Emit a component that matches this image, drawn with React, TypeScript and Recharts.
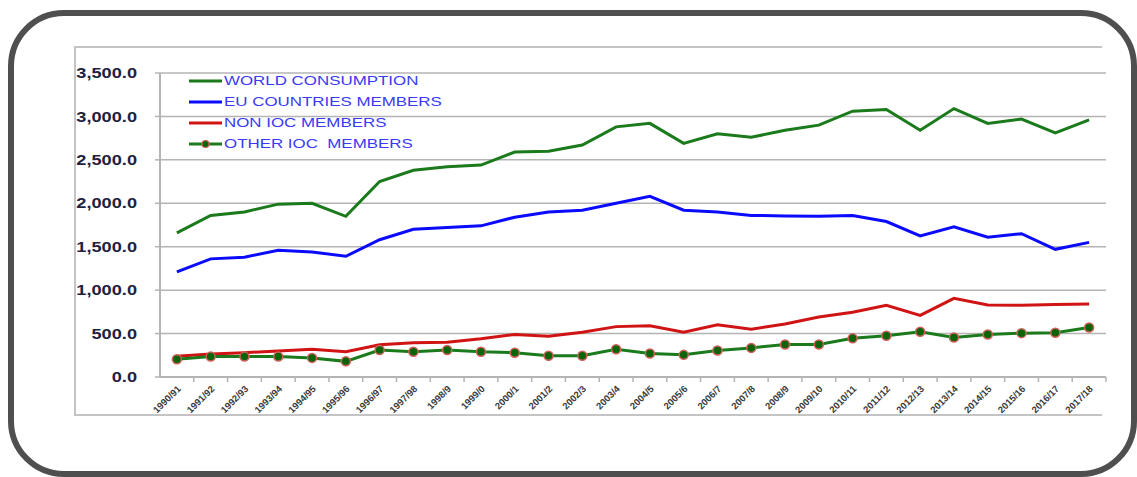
import React from 'react';
import { LineChart, Line, XAxis, YAxis, CartesianGrid, Legend } from 'recharts';

const years = [
  '1990/91', '1991/92', '1992/93', '1993/94', '1994/95', '1995/96', '1996/97',
  '1997/98', '1998/9', '1999/0', '2000/1', '2001/2', '2002/3', '2003/4',
  '2004/5', '2005/6', '2006/7', '2007/8', '2008/9', '2009/10', '2010/11',
  '2011/12', '2012/13', '2013/14', '2014/15', '2015/16', '2016/17', '2017/18',
];

const worldConsumption = [
  1660, 1860, 1900, 1990, 2000, 1850, 2250, 2380, 2420, 2440, 2590, 2600, 2670, 2880,
  2920, 2690, 2800, 2760, 2840, 2900, 3060, 3080, 2840, 3090, 2920, 2970, 2810, 2960,
];
const euMembers = [
  1210, 1360, 1380, 1460, 1440, 1390, 1580, 1700, 1720, 1740, 1840, 1900, 1920, 2000,
  2080, 1920, 1900, 1860, 1855, 1850, 1860, 1790, 1625, 1730, 1610, 1650, 1470, 1550,
];
const nonIocMembers = [
  240, 265, 280, 300, 320, 290, 370, 395, 400, 440, 490, 470, 515, 580,
  590, 515, 600, 550, 610, 690, 745, 825, 710, 905, 830, 825, 835, 840,
];
const otherIocMembers = [
  205, 235, 235, 235, 220, 180, 310, 290, 310, 290, 280, 245, 245, 320,
  270, 255, 305, 335, 375, 375, 445, 475, 520, 455, 490, 505, 510, 570,
];

const yTicks = [0, 500, 1000, 1500, 2000, 2500, 3000, 3500];

const data = years.map((year, i) => ({
  year,
  world: worldConsumption[i],
  eu: euMembers[i],
  nonIoc: nonIocMembers[i],
  otherIoc: otherIocMembers[i],
}));

const GREEN = '#1b7a1b';
const BLUE = '#0a0aff';
const RED = '#d01414';
const GRID = '#b4b4b4';

// plot box, page coords
const PLOT_LEFT = 160;
const PLOT_RIGHT = 1106;
const BAND = (PLOT_RIGHT - PLOT_LEFT) / years.length;

const legendItems = [
  { label: 'WORLD CONSUMPTION', color: GREEN, dot: false },
  { label: 'EU COUNTRIES MEMBERS', color: BLUE, dot: false },
  { label: 'NON IOC MEMBERS', color: RED, dot: false },
  { label: 'OTHER IOC  MEMBERS', color: GREEN, dot: true },
];

const renderLegend = () => (
  <div style={{ fontFamily: '"Liberation Sans", Arial, sans-serif' }}>
    {legendItems.map((item) => (
      <div key={item.label} style={{ display: 'flex', alignItems: 'center', height: 21 }}>
        <svg width={34} height={12} style={{ flex: 'none' }}>
          <line x1={0} y1={6} x2={33} y2={6} stroke={item.color} strokeWidth={3} />
          {item.dot && <circle cx={16.5} cy={6} r={3.5} fill="#0a640a" stroke="#d0605a" strokeWidth={1.2} />}
        </svg>
        <span
          style={{
            display: 'inline-block',
            fontSize: 13,
            color: '#3a3af5',
            whiteSpace: 'pre',
            transform: 'scaleX(1.3)',
            transformOrigin: 'left center',
            marginLeft: 1,
          }}
        >
          {item.label}
        </span>
      </div>
    ))}
  </div>
);

const YTick = ({ x, y, payload }: any) => (
  <text
    transform={`translate(${x},${y}) scale(1.3,1)`}
    textAnchor="end"
    dominantBaseline="central"
    fontFamily='"Liberation Sans", Arial, sans-serif'
    fontSize={14}
    fontWeight="bold"
    fill="#1e2240"
  >
    {payload.value.toLocaleString('en-US', { minimumFractionDigits: 1, maximumFractionDigits: 1 })}
  </text>
);

// tick marks sit on the category boundaries, labels under the category
const XTick = ({ x, y, payload }: any) => (
  <g>
    <line x1={x + BAND / 2} x2={x + BAND / 2} y1={y - 8} y2={y - 3} stroke={GRID} strokeWidth={1.5} />
    <text
      transform={`translate(${x + 2},${y + 2}) rotate(-45)`}
      textAnchor="end"
      dominantBaseline="central"
      fontFamily='"Liberation Sans", Arial, sans-serif'
      fontSize={9.5}
      fontWeight="bold"
      fill="#3a3a3a"
    >
      {payload.value}
    </text>
  </g>
);

export default function App() {
  return (
    <div style={{ position: 'absolute', left: 0, top: 0, width: 1137, height: 477, overflow: 'hidden', background: '#fff' }}>
      {/* rounded outer frame */}
      <div
        style={{
          position: 'absolute',
          left: 8,
          top: 10,
          width: 1129,
          height: 467,
          boxSizing: 'border-box',
          border: '6px solid #4f4f4f',
          borderRadius: 56,
        }}
      />
      {/* chart area frame */}
      <div
        style={{
          position: 'absolute',
          left: 74,
          top: 46,
          width: 1028,
          height: 370,
          boxSizing: 'border-box',
          borderTop: '2px solid #c4c4c4',
          borderLeft: '2px solid #c4c4c4',
          borderBottom: '2px solid #c4c4c4',
        }}
      />
      <div style={{ position: 'absolute', left: 0, top: 0 }}>
        <LineChart
          width={1137}
          height={477}
          data={data}
          margin={{ top: 73, right: 1137 - PLOT_RIGHT, bottom: 60, left: PLOT_LEFT - 85 }}
        >
          <CartesianGrid vertical={false} stroke={GRID} strokeWidth={1.5} />
          <XAxis
            dataKey="year"
            interval={0}
            height={40}
            padding={{ left: BAND / 2, right: BAND / 2 }}
            tickSize={5}
            tickMargin={3}
            tickLine={false}
            axisLine={{ stroke: GRID, strokeWidth: 2 }}
            tick={<XTick />}
          />
          <YAxis
            width={85}
            domain={[0, 3500]}
            ticks={yTicks}
            tickSize={5}
            tickMargin={18}
            tickLine={{ stroke: GRID, strokeWidth: 1.5 }}
            axisLine={{ stroke: GRID, strokeWidth: 2 }}
            tick={<YTick />}
          />
          <Legend
            layout="vertical"
            align="center"
            verticalAlign="middle"
            content={renderLegend}
            wrapperStyle={{ left: 189, top: 70, width: 'auto' }}
          />
          <Line
            type="linear"
            dataKey="world"
            stroke={GREEN}
            strokeWidth={3}
            dot={false}
            isAnimationActive={false}
          />
          <Line
            type="linear"
            dataKey="eu"
            stroke={BLUE}
            strokeWidth={3}
            dot={false}
            isAnimationActive={false}
          />
          <Line
            type="linear"
            dataKey="nonIoc"
            stroke={RED}
            strokeWidth={3}
            dot={false}
            isAnimationActive={false}
          />
          <Line
            type="linear"
            dataKey="otherIoc"
            stroke={GREEN}
            strokeWidth={3}
            dot={{ r: 4.5, fill: '#0a640a', stroke: '#d0605a', strokeWidth: 1.5 }}
            isAnimationActive={false}
          />
        </LineChart>
      </div>
    </div>
  );
}
